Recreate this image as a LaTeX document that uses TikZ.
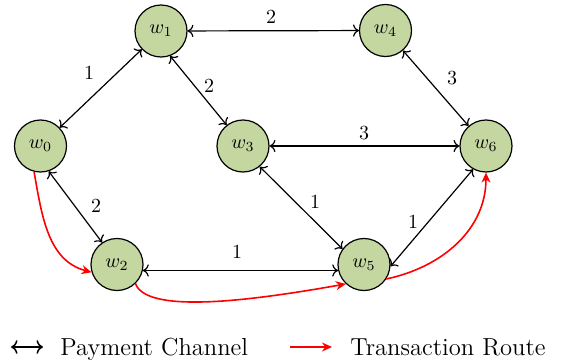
\documentclass[tikz,border=0pt]{standalone}
\usetikzlibrary{arrows.meta}
\definecolor{nodegreen}{RGB}{196,215,160}
\tikzset{
  wnode/.style={circle, draw=black, line width=0.6pt, fill=nodegreen, minimum size=26pt, inner sep=0pt},
  chan/.style={<->, line width=0.6pt},
  legchan/.style={<->, line width=0.75pt},
  route/.style={-{Stealth[length=5pt,width=4.5pt]}, red, line width=0.8pt},
  wlabel/.style={inner sep=0pt, font=\normalsize},
  legtext/.style={anchor=base west, inner sep=0pt, font=\fontsize{12.3}{14}\selectfont}
}
\begin{document}
\begin{tikzpicture}[x=0.5pt,y=0.5pt]
\useasboundingbox (0,0) rectangle (569,360);
% nodes
\node[wnode] (w0) at (40.5,214) {$w_0$};
\node[wnode] (w1) at (161,329) {$w_1$};
\node[wnode] (w2) at (117,95.5) {$w_2$};
\node[wnode] (w3) at (243,214) {$w_3$};
\node[wnode] (w4) at (385.5,329.5) {$w_4$};
\node[wnode] (w5) at (364,95.5) {$w_5$};
\node[wnode] (w6) at (486,214) {$w_6$};
% channels
\draw[chan] (w1) -- (w4);
\draw[chan] (w0) -- (w1);
\draw[chan] (w1.-70) -- (w3.128);
\draw[chan] (w4) -- (w6);
\draw[chan] (w3) -- (w6);
\draw[chan] (w0.-72) -- (w2.124);
\draw[chan] (w3.-51) -- (w5.144);
\draw[chan] (w5.-4) -- (w6.-119);
\draw[chan] (w2.-13) -- (w5.193);
% channel labels
\node[wlabel] (l14) at (271,343) {2};
\node[wlabel] (l01) at (89,287) {1};
\node[wlabel] (l13) at (209,274) {2};
\node[wlabel] (l46) at (452,282) {3};
\node[wlabel] (l36) at (364,227) {3};
\node[wlabel] (l02) at (96,154) {2};
\node[wlabel] (l35) at (315,158) {1};
\node[wlabel] (l56) at (413,138) {1};
\node[wlabel] (l25) at (237,108) {1};
% transaction route
\draw[route] (w0.-104) to[out=-80,in=165] (w2.-163);
\draw[route] (w2.-46) .. controls +(-70:35) and +(190:80) .. (w5.-133);
\draw[route] (w5.-33) to[out=12,in=-90] (w6.-90);
% legend
\coordinate (la1) at (11,13);
\coordinate (la2) at (43,13);
\draw[legchan] (la1) -- (la2);
\node[legtext] (lt1) at (60,5) {Payment Channel};
\coordinate (lr1) at (290,13);
\coordinate (lr2) at (332,13);
\draw[route] (lr1) -- (lr2);
\node[legtext] (lt2) at (350,5) {Transaction Route};
\end{tikzpicture}
\end{document}
